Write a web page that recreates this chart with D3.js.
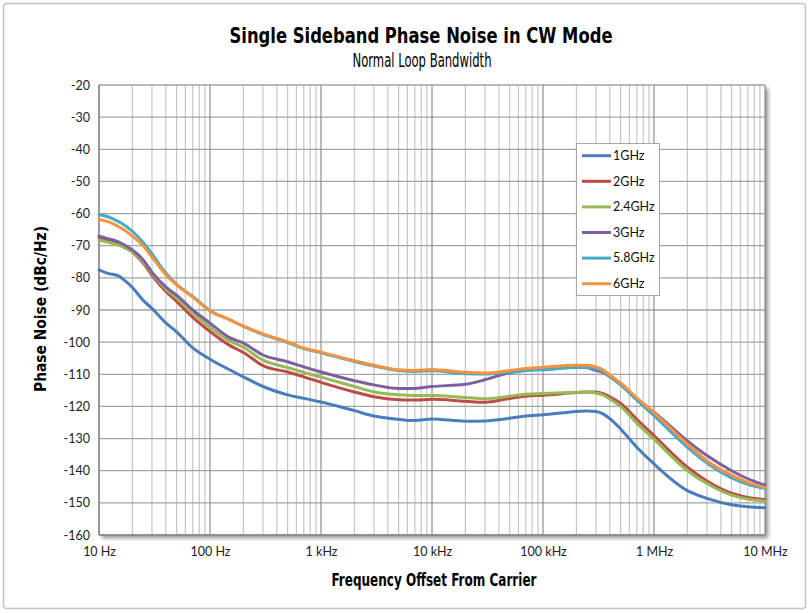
<!DOCTYPE html>
<html>
<head>
<meta charset="utf-8">
<script src="https://cdn.jsdelivr.net/npm/d3@7"></script>
<style>
  html, body { margin: 0; padding: 0; background: #fff; }
  svg { display: block; }
</style>
</head>
<body>
<svg id="chart" width="810" height="613"></svg>
<script>
// ---------- DATA ----------
const freqs = [10, 12, 15, 17, 20, 25, 30, 40, 50, 70, 100, 150, 200, 300, 500, 700,
  1e3, 2e3, 3e3, 5e3, 7e3, 1e4, 2e4, 3e4, 5e4, 7e4, 1e5, 2e5, 2.5e5, 3e5, 3.5e5, 4e5, 5e5, 7e5,
  1e6, 2e6, 3e6, 5e6, 7e6, 1e7];

const seriesNames = ["1GHz", "2GHz", "2.4GHz", "3GHz", "5.8GHz", "6GHz"];

const ghz1 = [-77.5, -78.6, -79.4, -80.8, -83.0, -87.0, -89.5, -94.0, -96.8, -101.8, -105.3, -108.6, -110.8, -113.8, -116.4, -117.5,
  -118.6, -121.3, -123.0, -124.0, -124.4, -123.9, -124.6, -124.5, -123.7, -123.0, -122.6, -121.6, -121.4, -121.6, -122.4, -123.8, -127.0, -132.7,
  -137.9, -146.2, -148.6, -150.6, -151.2, -151.5];
const ghz2 = [-67.5, -68.4, -69.5, -70.5, -72.0, -75.4, -79.2, -84.2, -87.3, -92.3, -96.7, -101.0, -103.2, -107.3, -109.3, -110.8,
  -112.5, -115.5, -117.0, -117.9, -118.0, -117.8, -118.4, -118.7, -117.5, -116.8, -116.5, -115.7, -115.5, -115.5, -116.0, -117.0, -119.0, -124.0,
  -129.1, -138.9, -143.2, -147.0, -148.3, -149.0];
const ghz24 = [-68.3, -68.9, -69.8, -70.6, -71.9, -75.0, -78.6, -83.5, -86.3, -91.0, -95.4, -99.6, -101.6, -105.6, -107.9, -109.4,
  -110.9, -113.8, -115.5, -116.4, -116.6, -116.6, -117.2, -117.6, -116.8, -116.2, -116.0, -115.6, -115.5, -115.8, -116.5, -117.7, -120.0, -125.2,
  -130.2, -140.0, -144.0, -147.6, -148.8, -149.4];
const ghz3 = [-67.0, -67.8, -68.8, -69.8, -71.3, -74.4, -78.2, -82.8, -85.4, -90.0, -94.1, -98.6, -100.3, -104.0, -106.1, -107.7,
  -109.3, -112.0, -113.3, -114.4, -114.4, -113.8, -113.1, -111.7, -109.5, -108.8, -108.3, -107.8, -108.0, -108.8, -109.5, -110.8, -113.2, -117.8,
  -121.8, -130.7, -135.3, -140.0, -142.5, -144.5];
const ghz58 = [-60.3, -61.0, -62.5, -63.6, -65.5, -69.0, -72.5, -78.5, -82.0, -85.8, -90.2, -93.0, -95.1, -97.6, -100.1, -102.0,
  -103.3, -106.0, -107.4, -108.8, -109.1, -108.9, -109.8, -109.9, -109.3, -108.8, -108.6, -107.9, -107.9, -108.3, -109.2, -110.6, -113.3, -118.0,
  -122.9, -132.7, -137.6, -142.2, -144.2, -145.5];
const ghz6 = [-61.8, -62.5, -64.0, -65.2, -67.0, -70.0, -73.5, -79.0, -82.2, -86.0, -90.3, -93.0, -95.0, -97.4, -99.9, -101.8,
  -103.1, -105.8, -107.2, -108.6, -108.8, -108.5, -109.4, -109.6, -108.8, -108.2, -107.8, -107.2, -107.2, -107.7, -108.7, -110.2, -112.7, -117.3,
  -121.9, -131.7, -136.9, -141.4, -143.6, -145.2];

const seriesColors = ["#4A7EBB", "#BE4B48", "#98B954", "#7D60A0", "#46AAC5", "#F69240"];

const yTicks = [-160, -150, -140, -130, -120, -110, -100, -90, -80, -70, -60, -50, -40, -30, -20];
const xTickValues = [10, 100, 1e3, 1e4, 1e5, 1e6, 1e7];
const xTickLabels = ["10 Hz", "100 Hz", "1 kHz", "10 kHz", "100 kHz", "1 MHz", "10 MHz"];

const titleText = "Single Sideband Phase Noise in CW Mode";
const subtitleText = "Normal Loop Bandwidth";
const xTitle = "Frequency Offset From Carrier";
const yTitle = "Phase Noise (dBc/Hz)";

// ---------- CHART ----------
const allSeries = [ghz1, ghz2, ghz24, ghz3, ghz58, ghz6];
const svg = d3.select("#chart");
const condensed = "'Liberation Sans Narrow', 'Arial Narrow', 'DejaVu Sans Condensed', sans-serif";
const bodyFont = "Lato, 'Open Sans', sans-serif";

const L = 99, R = 765, T = 85, B = 535;
const x = d3.scaleLog().domain([10, 1e7]).range([L, R]);
const y = d3.scaleLinear().domain([-160, -20]).range([B, T]);

// defs: shadow
const defs = svg.append("defs");
const f = defs.append("filter").attr("id", "shadow").attr("x", "-5%").attr("y", "-5%").attr("width", "112%").attr("height", "112%");
f.append("feGaussianBlur").attr("in", "SourceAlpha").attr("stdDeviation", 2);
f.append("feOffset").attr("dx", 2.5).attr("dy", 2.5).attr("result", "ob");
f.append("feComponentTransfer").append("feFuncA").attr("type", "linear").attr("slope", 0.45);
const fm = f.append("feMerge");
fm.append("feMergeNode");
fm.append("feMergeNode").attr("in", "SourceGraphic");

// outer border
svg.append("rect").attr("x", 3.5).attr("y", 3.5).attr("width", 802).attr("height", 605)
  .attr("rx", 3).attr("fill", "#fff").attr("stroke", "#c4c4c4").attr("stroke-width", 1.5);

// plot area background with shadow
svg.append("rect").attr("x", L).attr("y", T).attr("width", R - L).attr("height", B - T)
  .attr("fill", "#fff").attr("filter", "url(#shadow)");

// minor vertical grid
const minor = [];
for (let d = 10; d < 1e7; d *= 10) for (let k = 2; k <= 9; k++) minor.push(d * k);
svg.append("g").selectAll("line").data(minor).join("line")
  .attr("x1", d => x(d)).attr("x2", d => x(d)).attr("y1", T).attr("y2", B)
  .attr("stroke", "#c6c6c6").attr("stroke-width", 1.2);

// horizontal grid
svg.append("g").selectAll("line").data(yTicks).join("line")
  .attr("x1", L).attr("x2", R).attr("y1", d => y(d)).attr("y2", d => y(d))
  .attr("stroke", "#a3a3a3").attr("stroke-width", 1.3);

// major vertical grid
svg.append("g").selectAll("line").data(xTickValues).join("line")
  .attr("x1", d => x(d)).attr("x2", d => x(d)).attr("y1", T).attr("y2", B)
  .attr("stroke", "#8e8e8e").attr("stroke-width", 1.2);

// axis lines
svg.append("line").attr("x1", L).attr("x2", L).attr("y1", T).attr("y2", B).attr("stroke", "#868686").attr("stroke-width", 1.3);
svg.append("line").attr("x1", L).attr("x2", R).attr("y1", B).attr("y2", B).attr("stroke", "#868686").attr("stroke-width", 1.3);

// axes labels via d3 axes
const yAxis = d3.axisLeft(y).tickValues(yTicks).tickSize(0).tickPadding(9).tickFormat(d => d);
const gy = svg.append("g").attr("transform", `translate(${L},0)`).call(yAxis);
gy.select(".domain").remove();
gy.selectAll("text").attr("font-family", bodyFont).attr("font-size", 12.5).attr("fill", "#222");

const xAxis = d3.axisBottom(x).tickValues(xTickValues).tickSize(0).tickPadding(12)
  .tickFormat((d, i) => xTickLabels[i]);
const gx = svg.append("g").attr("transform", `translate(0,${B})`).call(xAxis);
gx.select(".domain").remove();
gx.selectAll("text").attr("font-family", bodyFont).attr("font-size", 12.5).attr("fill", "#222");

// lines
const line = d3.line().x((d, i) => x(freqs[i])).y(d => y(d)).curve(d3.curveMonotoneX);
svg.append("g").selectAll("path").data(allSeries).join("path")
  .attr("d", d => line(d))
  .attr("fill", "none")
  .attr("stroke", (d, i) => seriesColors[i])
  .attr("stroke-width", 3)
  .attr("stroke-linejoin", "round")
  .attr("stroke-linecap", "round");

// titles
svg.append("text").attr("x", 421).attr("y", 43).attr("text-anchor", "middle")
  .attr("font-family", condensed).attr("font-weight", "bold").attr("font-size", 22)
  .attr("textLength", 383).attr("lengthAdjust", "spacingAndGlyphs")
  .attr("fill", "#000").text(titleText);
svg.append("text").attr("x", 422).attr("y", 67).attr("text-anchor", "middle")
  .attr("font-family", condensed).attr("font-size", 20)
  .attr("textLength", 139).attr("lengthAdjust", "spacingAndGlyphs")
  .attr("fill", "#000").text(subtitleText);
svg.append("text").attr("x", 434).attr("y", 586).attr("text-anchor", "middle")
  .attr("font-family", condensed).attr("font-weight", "bold").attr("font-size", 17)
  .attr("textLength", 205).attr("lengthAdjust", "spacingAndGlyphs")
  .attr("fill", "#000").text(xTitle);
svg.append("text").attr("transform", "translate(46,309) rotate(-90)").attr("text-anchor", "middle")
  .attr("font-family", condensed).attr("font-weight", "bold").attr("font-size", 15.5)
  .attr("textLength", 166).attr("lengthAdjust", "spacingAndGlyphs")
  .attr("fill", "#000").text(yTitle);

// legend
const lg = svg.append("g");
lg.append("rect").attr("x", 576.5).attr("y", 143.5).attr("width", 83).attr("height", 152)
  .attr("fill", "#fff").attr("stroke", "#a6a6a6").attr("stroke-width", 1);
const items = lg.selectAll("g.item").data(seriesNames).join("g").attr("class", "item")
  .attr("transform", (d, i) => `translate(0,${155.7 + i * 25.6})`);
items.append("line").attr("x1", 582).attr("x2", 611).attr("y1", 0).attr("y2", 0)
  .attr("stroke", (d, i) => seriesColors[i]).attr("stroke-width", 3);
items.append("text").attr("x", 613).attr("y", 0).attr("dy", "0.35em")
  .attr("font-family", bodyFont).attr("font-size", 12.5).attr("fill", "#111").text(d => d);
</script>
</body>
</html>
